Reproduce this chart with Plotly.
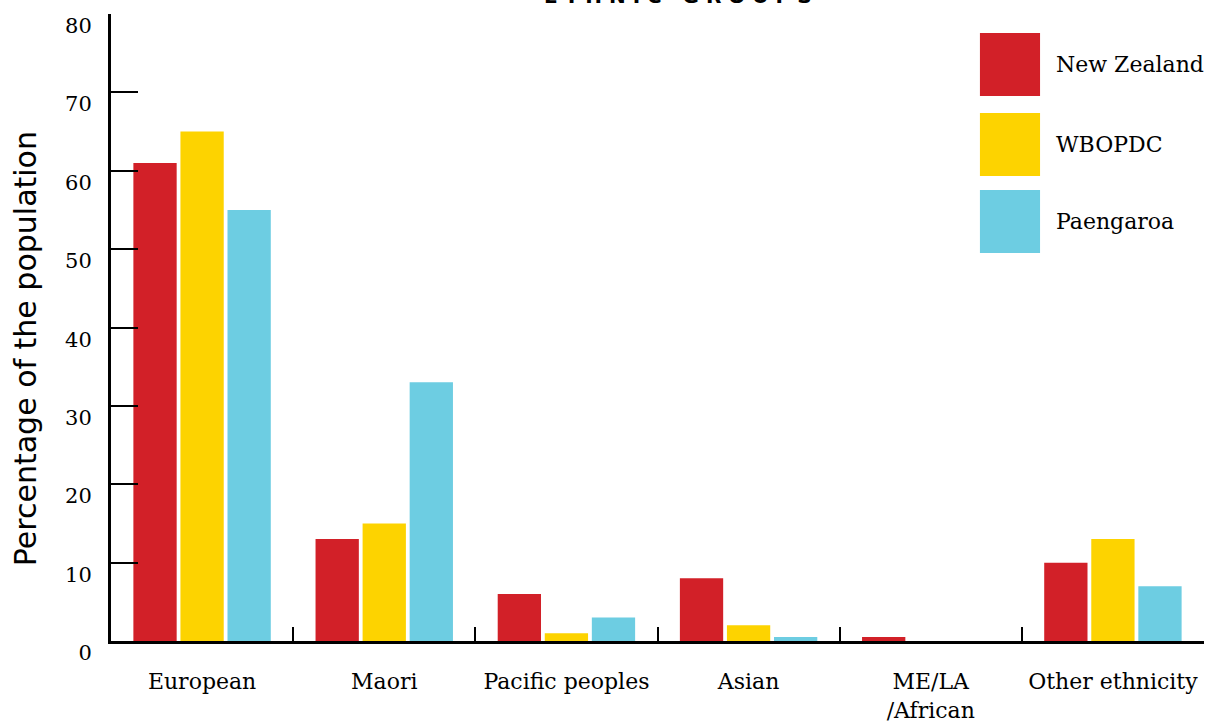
import plotly.graph_objects as go

categories = ["European", "Maori", "Pacific peoples", "Asian", "ME/LA<br>/African", "Other ethnicity"]
series_names = ["New Zealand", "WBOPDC", "Paengaroa"]
new_zealand = [61, 13, 6, 8, 0.5, 10]
wbopdc = [65, 15, 1, 2, 0, 13]
paengaroa = [55, 33, 3, 0.5, 0, 7]
y_ticks = [0, 10, 20, 30, 40, 50, 60, 70, 80]
title_text = "<b>E T H N I C   G R O U P S</b>"
y_title = "Percentage of the population"

colors = ["#D22028", "#FDD300", "#6DCDE2"]
serif = "DejaVu Serif"

fig = go.Figure()
for name, vals, col in zip(series_names, [new_zealand, wbopdc, paengaroa], colors):
    fig.add_trace(go.Bar(x=categories, y=vals, name=name, marker=dict(color=col, line=dict(width=0)),
                         showlegend=False))

fig.update_layout(
    width=1222, height=722,
    margin=dict(l=111, r=18, t=14, b=81, autoexpand=False),
    paper_bgcolor="white", plot_bgcolor="white",
    barmode="group", bargap=0.225, bargroupgap=0.08,
    font=dict(family=serif, color="black"),
)
fig.update_xaxes(
    showline=True, linecolor="black", linewidth=3,
    ticks="inside", tickson="boundaries", ticklen=14, tickwidth=2, tickcolor="black",
    showgrid=False, zeroline=False, tickangle=0,
    tickfont=dict(family=serif, size=22, color="black"),
    ticklabelstandoff=19,
    range=[-0.5, 5.5],
)
fig.update_yaxes(
    range=[0, 80], tickvals=y_ticks,
    showline=True, linecolor="black", linewidth=3,
    ticks="inside", ticklen=27, tickwidth=2, tickcolor="black",
    showgrid=False, zeroline=False,
    ticklabelposition="outside bottom",
    tickfont=dict(family=serif, size=21, color="black"),
    ticklabelstandoff=12, ticklabelshift=-4,
)

# y-axis title
fig.add_annotation(text=y_title, xref="paper", yref="paper", x=-0.0787, y=0.467, textangle=-90,
                   xanchor="center", yanchor="middle", showarrow=False,
                   font=dict(family="DejaVu Sans", size=30, color="black"))

# title (cut off at top, as in the reference)
fig.add_annotation(text=title_text, xref="paper", yref="paper", x=0.519, y=1, yanchor="middle",
                   yshift=18, showarrow=False, font=dict(family="DejaVu Sans", size=20, color="black"))

# custom legend
legend_tops = [0.9697, 0.8421, 0.7193]
for name, col, top in zip(series_names, colors, legend_tops):
    fig.add_shape(type="rect", xref="paper", yref="paper", x0=0.795, x1=0.850, y0=top - 0.1005, y1=top,
                  fillcolor=col, line=dict(width=0))
    fig.add_annotation(text=name, xref="paper", yref="paper", x=0.8627, y=top - 0.05, xanchor="left",
                       yanchor="middle", showarrow=False, font=dict(family=serif, size=22, color="black"))

fig.write_html("out.html", config={"displayModeBar": False},
               post_script="document.body.style.margin='0';document.body.style.overflow='hidden';")
